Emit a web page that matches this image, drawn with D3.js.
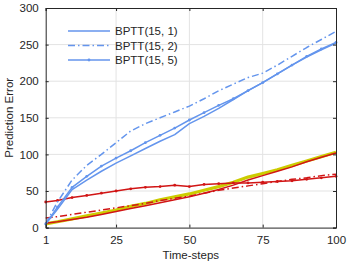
<!DOCTYPE html>
<html><head><meta charset="utf-8">
<script src="https://cdn.jsdelivr.net/npm/d3@7"></script>
<style>body{margin:0;background:#fff}svg{display:block}text{font-family:"Liberation Sans",Arial,sans-serif}</style>
</head><body>
<svg id="c" width="347" height="263"></svg>
<script>
const steps = [1,5,10,15,20,25,30,35,40,45,50,55,60,65,70,75,80,85,90,95,100];
const bptt1 = [5,25,52,65,77,88,98,108,118,127,142,152,163,175,187,198,210,222,233,243,252];
const bptt2 = [5,35,65,85,100,116,132,142,150,158,166,176,187,196,205,211,222,234,246,257,268];
const bptt5 = [5,28,55,70,84,95,105,116,126,136,147,157,167,176,187,198,210,222,234,244,253];
const redMarked = [35,37,41,44,47,50,53,55,56,58,56,59,60,61,61,62,63,64,66,68,70];
const redDashDot = [13,15,18,21,24,27,30,33,37,40,43,47,51,54,57,60,63,66,68,71,73];
const redPlain = [6,8,11,14,18,22,26,30,34,38,42,47,52,58,65,71,77,83,90,96,102];
const yellow = [5,8,12,16,20,24,29,33,38,42,46,51,56,62,69,74,79,85,91,97,103];
const xTicks = [1,25,50,75,100];
const yTicks = [0,50,100,150,200,250,300];
const legendLabels = ["BPTT(15, 1)","BPTT(15, 2)","BPTT(15, 5)"];

const svg = d3.select("#c");
const L=45.7,R=336,T=8,B=227.6;
const x = d3.scaleLinear().domain([1,100]).range([L,R]);
const y = d3.scaleLinear().domain([0,300]).range([B,T]);
const FS="11.5px";

// grid
const g = svg.append("g");
g.selectAll(".gx").data(xTicks.slice(1,-1)).join("line")
 .attr("x1",d=>x(d)).attr("x2",d=>x(d)).attr("y1",T).attr("y2",B)
 .attr("stroke","#e3e3e3").attr("stroke-width",1);
g.selectAll(".gy").data(yTicks.slice(1,-1)).join("line")
 .attr("x1",L).attr("x2",R).attr("y1",d=>y(d)).attr("y2",d=>y(d))
 .attr("stroke","#e3e3e3").attr("stroke-width",1);

const blue="#6495ed", red="#d11515", yel="#cccc00";
const line = v => d3.line().x((d,i)=>x(steps[i])).y(d=>y(d))(v);
const dashdot="7,3,1.5,3";
const series = [
 {v:yellow,c:yel,w:3.2},
 {v:redPlain,c:red,w:1.5},
 {v:redDashDot,c:red,w:1.5,dash:dashdot},
 {v:redMarked,c:red,w:1.5,marks:true},
 {v:bptt1,c:blue,w:1.5},
 {v:bptt2,c:blue,w:1.5,dash:dashdot},
 {v:bptt5,c:blue,w:1.5,marks:true},
];
series.forEach(s=>{
  svg.append("path").attr("d",line(s.v)).attr("fill","none").attr("stroke",s.c)
   .attr("stroke-width",s.w).attr("stroke-dasharray",s.dash||null).attr("stroke-linejoin","round");
  if(s.marks){
    svg.append("g").selectAll("circle").data(s.v).join("circle")
     .attr("cx",(d,i)=>x(steps[i])).attr("cy",d=>y(d)).attr("r",1.4).attr("fill",s.c);
  }
});

// axes box
const ax = svg.append("g").attr("transform",`translate(0,${B})`)
 .call(d3.axisBottom(x).tickValues(xTicks).tickSize(-3).tickPadding(8.5).tickFormat(d3.format("d")));
const ay = svg.append("g").attr("transform",`translate(${L},0)`)
 .call(d3.axisLeft(y).tickValues(yTicks).tickSize(-3).tickPadding(7));
const at = svg.append("g").attr("transform",`translate(0,${T})`)
 .call(d3.axisTop(x).tickValues(xTicks).tickSize(-3).tickFormat(""));
const ar = svg.append("g").attr("transform",`translate(${R},0)`)
 .call(d3.axisRight(y).tickValues(yTicks).tickSize(-3).tickFormat(""));
[ax,ay,at,ar].forEach(a=>{
  a.selectAll("path").attr("stroke","#262626").attr("stroke-width",1);
  a.selectAll("line").attr("stroke","#262626");
  a.selectAll("text").attr("fill","#262626").style("font-size",FS).style("font-family","'Liberation Sans',Arial,sans-serif");
});

svg.append("text").attr("x",(L+R)/2).attr("y",259).attr("text-anchor","middle")
 .attr("fill","#262626").style("font-size",FS).text("Time-steps");
svg.append("text").attr("transform",`translate(12.5,${(T+B)/2}) rotate(-90)`).attr("text-anchor","middle")
 .attr("fill","#262626").style("font-size",FS).text("Prediction Error");

// legend
const lg = svg.append("g");
const dashes=[null,dashdot,null];
legendLabels.forEach((t,i)=>{
  const yy=31+i*14.5;
  lg.append("line").attr("x1",68).attr("x2",110).attr("y1",yy).attr("y2",yy)
    .attr("stroke",blue).attr("stroke-width",1.5).attr("stroke-dasharray",dashes[i]);
  if(i===2) lg.append("circle").attr("cx",89).attr("cy",yy).attr("r",1.4).attr("fill",blue);
  lg.append("text").attr("x",115).attr("y",yy+4).attr("fill","#262626").style("font-size",FS).text(t);
});
</script>
</body></html>
